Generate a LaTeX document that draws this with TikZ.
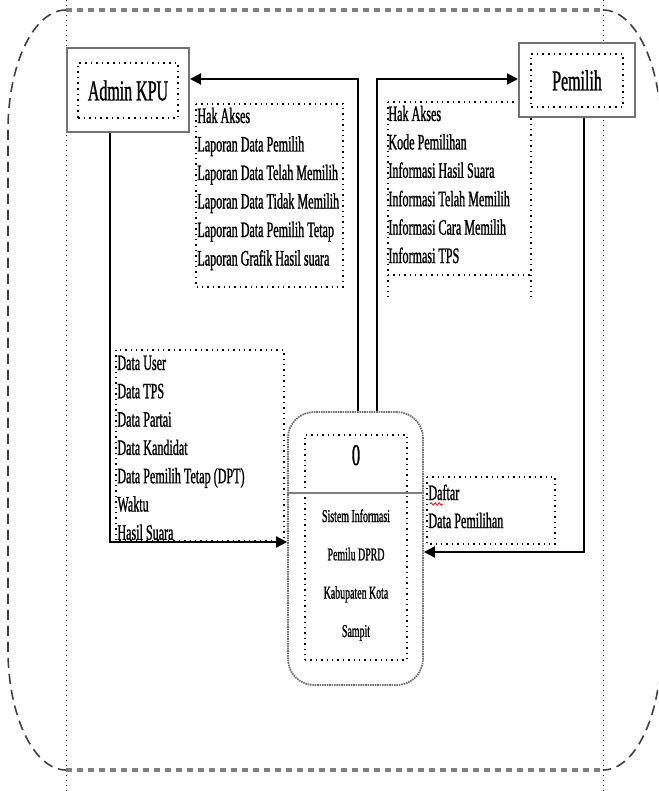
\documentclass[tikz,border=0pt]{standalone}
\usepackage{fontspec}
\setmainfont{Liberation Serif}[FakeStretch=0.55, FakeBold=1]
\usetikzlibrary{arrows.meta,decorations.pathmorphing}

\tikzset{
  entity/.style={draw=black!55, fill=white, line width=1pt, inner sep=0pt},
  entityin/.style={draw, dotted, line width=0.8pt, inner sep=0pt, font=\fontsize{14.5}{16}\selectfont},
  listbox/.style={draw, dotted, line width=0.7pt},
  item/.style={anchor=base west, inner sep=0pt, font=\fontsize{11}{13}\selectfont},
  proctext/.style={anchor=base, inner sep=0pt, font=\fontsize{9}{10}\selectfont},
  flow/.style={->, line width=1pt},
  frameedge/.style={draw=black!50, line width=2pt, dash pattern=on 3pt off 2.5pt},
  frameside/.style={draw=black!75, line width=0.8pt, dash pattern=on 5pt off 3pt},
  guide/.style={dotted, line width=0.5pt}
}

\begin{document}
\begin{tikzpicture}[x=0.5pt, y=-0.5pt, >={Triangle[length=5.5pt,width=5.5pt]}]
    \clip (0,0) rectangle (658,791);

    % Frame
    \draw[guide] (66,0) -- (66,791);
    \draw[guide] (603,0) -- (603,791);
    \draw[frameedge] (66,10) -- (603,10);
    \draw[frameedge] (66,770) -- (603,770);
    \draw[frameside] (66,10) .. controls (34,10) and (8,64) .. (8,130) -- (8,650)
        .. controls (8,716) and (34,770) .. (66,770);
    \draw[frameside] (603,10) .. controls (635,10) and (661,64) .. (661,130) -- (661,650)
        .. controls (661,716) and (635,770) .. (603,770);

    % Data flow labels
    \draw[listbox] (196,104) rectangle (343,287);
    \foreach \t [count=\i from 0] in {Hak Akses, Laporan Data Pemilih, Laporan Data Telah Memilih,
        Laporan Data Tidak Memilih, Laporan Data Pemilih Tetap, Laporan Grafik Hasil suara}
        \node[item] (ka\i) at (197,123+28.5*\i) {\t};

    \draw[listbox] (388,102) -- (531,102);
    \draw[listbox] (388,102) -- (388,297);
    \draw[listbox] (531,102) -- (531,297);
    \draw[listbox] (388,275) -- (531,275);
    \foreach \t [count=\i from 0] in {Hak Akses, Kode Pemilihan, Informasi Hasil Suara,
        Informasi Telah Memilih, Informasi Cara Memilih, Informasi TPS}
        \node[item] (kp\i) at (388,121+28.4*\i) {\t};

    \draw[listbox] (116,350) rectangle (284,541);
    \foreach \t [count=\i from 0] in {Data User, Data TPS, Data Partai, Data Kandidat,
        Data Pemilih Tetap (DPT), Waktu, Hasil Suara}
        \node[item] (da\i) at (117,370+28.3*\i) {\t};

    \draw[listbox] (427,477) rectangle (555,544);
    \foreach \t [count=\i from 0] in {Daftar, Data Pemilihan}
        \node[item] (dp\i) at (428,500+28*\i) {\t};
    \draw[red, line width=0.4pt, decorate, decoration={snake, amplitude=0.6pt, segment length=2pt}]
        (430,504) -- (443,504);

    % External entities
    \node[entity, minimum width=61pt, minimum height=42pt] (admin) at (128,90) {};
    \node[entityin, minimum width=50pt, minimum height=27.5pt] (admintxt) at (128,90.5) {Admin KPU};
    \node[entity, minimum width=58pt, minimum height=37pt] (pemilih) at (577,80) {};
    \node[entityin, minimum width=46pt, minimum height=26.5pt] (pemilihtxt) at (577,80.5) {Pemilih};

    % Process
    \node[draw=black!55, fill=white, line width=0.9pt, dash pattern=on 0.8pt off 0.4pt,
          rounded corners=13pt, minimum width=67.5pt, minimum height=136.5pt,
          inner sep=0pt] (proc) at (355.5,548.5) {};
    \node[draw, dotted, line width=0.7pt, minimum width=51pt, minimum height=112.5pt,
          inner sep=0pt] (procin) at (356,547.5) {};
    \draw[draw=black!50, line width=0.8pt] (proc.west |- 0,493) -- (proc.east |- 0,493);
    \node[proctext, font=\fontsize{15}{16}\selectfont] (procno) at (356,465) {0};
    \foreach \t [count=\i from 0] in {Sistem Informasi, Pemilu DPRD, Kabupaten Kota, Sampit}
        \node[proctext] (pt\i) at (356,522+38.3*\i) {\t};

    % Flows
    \draw[flow] ([xshift=-9pt]admin.south) |- ([yshift=3.25pt]proc.west);
    \draw[flow] ([xshift=1.25pt]proc.north) |- ([yshift=5.5pt]admin.east);
    \draw[flow] ([xshift=10.75pt]proc.north) |- ([yshift=0.5pt]pemilih.west);
    \draw[flow] ([xshift=3.5pt]pemilih.south) |- ([yshift=-1.75pt]proc.east);
\end{tikzpicture}
\end{document}
